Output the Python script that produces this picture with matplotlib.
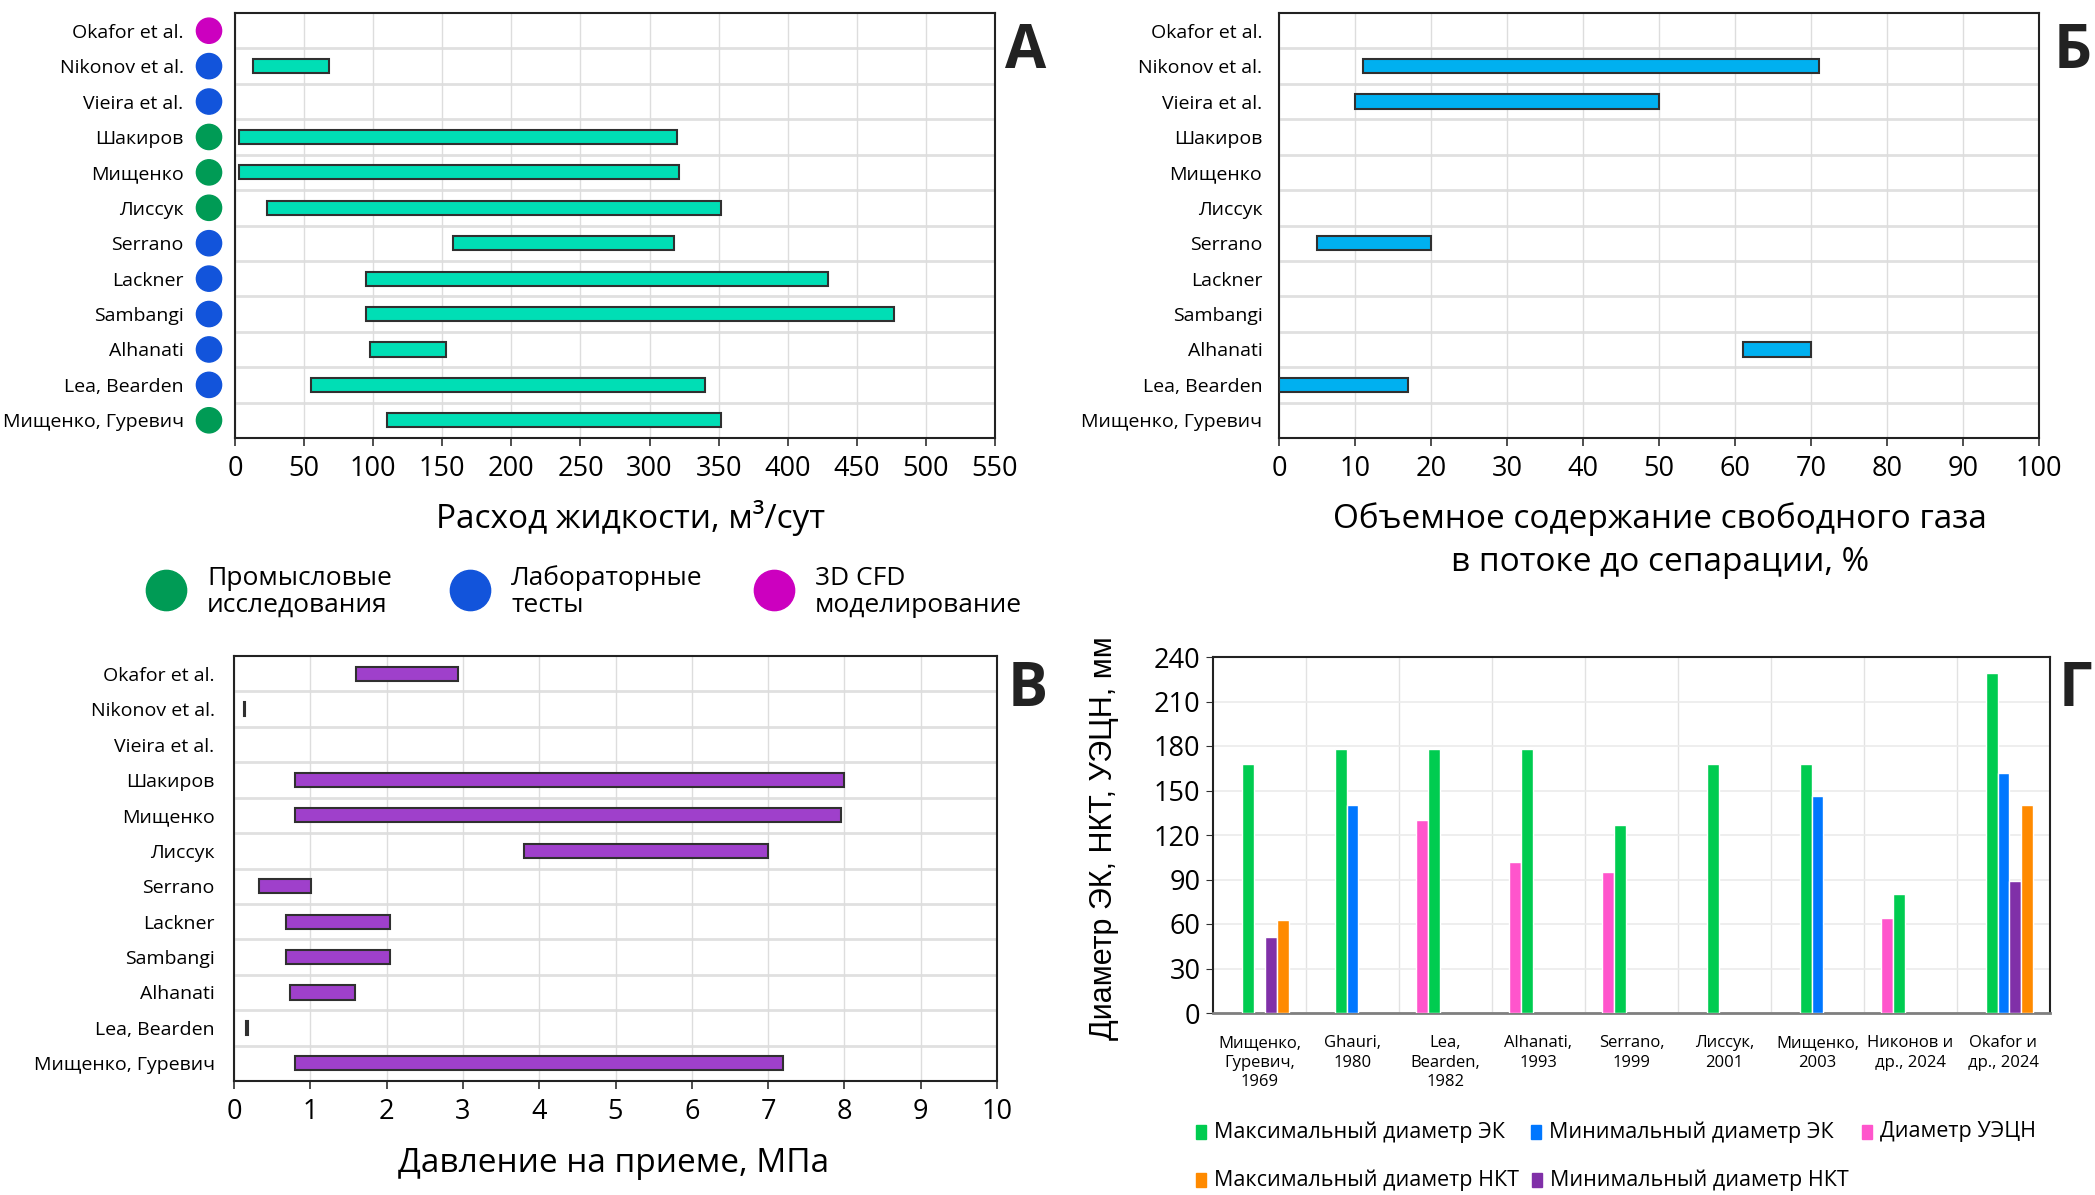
import numpy as np
import matplotlib
matplotlib.use("Agg")
import matplotlib.pyplot as plt
from matplotlib.lines import Line2D
from matplotlib.patches import Rectangle

plt.rcParams['font.family'] = ['Open Sans', 'DejaVu Sans']

# --- data ---
studies = ['Okafor et al.', 'Nikonov et al.', 'Vieira et al.', 'Шакиров', 'Мищенко',
           'Лиссук', 'Serrano', 'Lackner', 'Sambangi', 'Alhanati', 'Lea, Bearden',
           'Мищенко, Гуревич']
study_type = ['cfd', 'lab', 'lab', 'field', 'field', 'field', 'lab', 'lab', 'lab',
              'lab', 'lab', 'field']

flow_min = [np.nan, 13, np.nan, 3, 3, 23, 158, 95, 95, 98, 55, 110]
flow_max = [np.nan, 68, np.nan, 320, 321, 352, 318, 429, 477, 153, 340, 352]

gas_min = [np.nan, 11, 10, np.nan, np.nan, np.nan, 5, np.nan, np.nan, 61, 0, np.nan]
gas_max = [np.nan, 71, 50, np.nan, np.nan, np.nan, 20, np.nan, np.nan, 70, 17, np.nan]

press_min = [1.6, 0.13, np.nan, 0.8, 0.8, 3.8, 0.33, 0.68, 0.68, 0.73, 0.16, 0.8]
press_max = [2.93, 0.15, np.nan, 8.0, 7.96, 7.0, 1.01, 2.04, 2.04, 1.59, 0.19, 7.2]

groups = ['Мищенко,\nГуревич,\n1969', 'Ghauri,\n1980', 'Lea,\nBearden,\n1982',
          'Alhanati,\n1993', 'Serrano,\n1999', 'Лиссук,\n2001', 'Мищенко,\n2003',
          'Никонов и\nдр., 2024', 'Okafor и\nдр., 2024']
d_uecn = [np.nan, np.nan, 130, 102, 95, np.nan, np.nan, 64, np.nan]
d_ek_max = [168, 178, 178, 178, 127, 168, 168, 80, 229]
d_ek_min = [np.nan, 140, np.nan, np.nan, np.nan, np.nan, 146, np.nan, 162]
d_nkt_min = [51, np.nan, np.nan, np.nan, np.nan, np.nan, np.nan, np.nan, 89]
d_nkt_max = [63, np.nan, np.nan, np.nan, np.nan, np.nan, np.nan, np.nan, 140]

type_colors = {'field': '#009B55', 'lab': '#1254DB', 'cfd': '#CC00BF'}
type_names = [('field', 'Промысловые\nисследования'),
              ('lab', 'Лабораторные\nтесты'),
              ('cfd', '3D CFD\nмоделирование')]

W, H = 2095, 1195
fig = plt.figure(figsize=(W / 100, H / 100), dpi=100)


def add_ax(l, t, r, b):
    return fig.add_axes([l / W, 1 - b / H, (r - l) / W, (b - t) / H])


def range_panel(ax, lo, hi, color, xmax, step, label_pad):
    y = np.arange(len(studies))
    lo = np.array(lo, dtype=float)
    hi = np.array(hi, dtype=float)
    ok = ~np.isnan(lo)
    ax.barh(y[ok], hi[ok] - lo[ok], left=lo[ok], height=0.4, color=color,
            edgecolor='#303030', linewidth=1.5, zorder=3)
    ax.set_ylim(len(studies) - 0.5, -0.5)
    ax.set_xlim(0, xmax)
    ax.set_xticks(np.arange(0, xmax + step / 2, step))
    ax.set_yticks(y)
    ax.set_yticklabels(studies, fontsize=14)
    ax.tick_params(axis='y', length=0, pad=label_pad)
    ax.tick_params(axis='x', length=6, width=1.2, pad=6, labelsize=19.5, color='#303030')
    ax.grid(axis='x', color='#DDDDDD', linewidth=1, zorder=0)
    for k in range(len(studies) - 1):
        ax.axhline(k + 0.5, color='#E0E0E0', linewidth=2, zorder=1)
    for s in ax.spines.values():
        s.set_color('#222222')
        s.set_linewidth(1.5)


# --- panel A: liquid rate ---
axA = add_ax(235, 13, 995, 438)
range_panel(axA, flow_min, flow_max, '#00DEB5', 550, 50, 37)
axA.scatter(np.full(len(studies), -26 / 760), np.arange(len(studies)),
            s=330, c=[type_colors[t] for t in study_type],
            transform=axA.get_yaxis_transform(), clip_on=False, zorder=5)
fig.text(631 / W, 1 - 518 / H, 'Расход жидкости, м³/сут', fontsize=24,
         ha='center', va='center')

# --- panel Б: gas fraction ---
axB = add_ax(1279, 13, 2039, 438)
range_panel(axB, gas_min, gas_max, '#00B0F0', 100, 10, 12)
fig.text(1660 / W, 1 - 541 / H, 'Объемное содержание свободного газа\nв потоке до сепарации, %',
         fontsize=24, ha='center', va='center', linespacing=1.4)

# --- panel В: intake pressure ---
axV = add_ax(234, 656, 997, 1081)
range_panel(axV, press_min, press_max, '#9F40CB', 10, 1, 14)
fig.text(614 / W, 1 - 1163 / H, 'Давление на приеме, МПа', fontsize=24,
         ha='center', va='center')

# legend of study types
for (key, name), cx in zip(type_names, [166, 470, 774]):
    fig.add_artist(Line2D([cx / W], [1 - 590 / H], marker='o', markersize=29,
                          color=type_colors[key], transform=fig.transFigure))
    fig.text((cx + 41) / W, 1 - 592 / H, name, fontsize=19, ha='left',
             va='center', linespacing=1.1)

# --- panel Г: diameters ---
axG = add_ax(1213, 657, 2050, 1013)
x = np.arange(len(groups))
bw = 0.125
series = [(d_uecn, '#FF55CC', 'Диаметр УЭЦН'),
          (d_ek_max, '#00CC50', 'Максимальный диаметр ЭК'),
          (d_ek_min, '#0077FF', 'Минимальный диаметр ЭК'),
          (d_nkt_min, '#8030A8', 'Минимальный диаметр НКТ'),
          (d_nkt_max, '#FF8A00', 'Максимальный диаметр НКТ')]
for i, (vals, col, name) in enumerate(series):
    axG.bar(x + (i - 2) * bw, vals, width=bw, color=col, edgecolor='white',
            linewidth=1, zorder=3)
axG.set_xlim(-0.5, len(groups) - 0.5)
axG.set_ylim(0, 240)
axG.set_yticks(np.arange(0, 241, 30))
axG.tick_params(axis='y', length=5, pad=4, labelsize=19.5, color='#303030')
axG.set_xticks(x)
axG.set_xticklabels(groups, fontsize=12)
for lab in axG.get_xticklabels():
    lab.set_linespacing(1.3)
axG.tick_params(axis='x', length=0, pad=16)
axG.grid(axis='y', color='#EBEBEB', linewidth=1.2, zorder=0)
for k in range(len(groups) - 1):
    axG.axvline(k + 0.5, color='#E2E2E2', linewidth=1, zorder=0)
for s in axG.spines.values():
    s.set_color('#222222')
    s.set_linewidth(1.5)
axG.spines['bottom'].set_color('#7F7F7F')
axG.spines['bottom'].set_linewidth(2)
fig.text(1104 / W, 1 - 838 / H, 'Диаметр ЭК, НКТ, УЭЦН, мм', rotation=90,
         fontsize=22, family='Liberation Sans', ha='center', va='center')

legend_items = [(1, 1201, 1132), (2, 1536, 1132), (0, 1867, 1132),
                (4, 1201, 1180), (3, 1537, 1180)]
for idx, lx, ly in legend_items:
    vals, col, name = series[idx]
    fig.add_artist(Rectangle(((lx - 5) / W, 1 - (ly + 7) / H), 10 / W, 14 / H,
                             color=col, transform=fig.transFigure))
    fig.text((lx + 13) / W, 1 - ly / H, name, fontsize=15.5, ha='left', va='center')

# panel letters
for letter, cx, cy in [('А', 1026, 53), ('Б', 2073, 53), ('В', 1028, 691), ('Г', 2075, 690)]:
    fig.text(cx / W, 1 - cy / H, letter, fontsize=43, fontweight='bold',
             color='#222222', ha='center', va='center')

fig.savefig('out.png', dpi=100)
